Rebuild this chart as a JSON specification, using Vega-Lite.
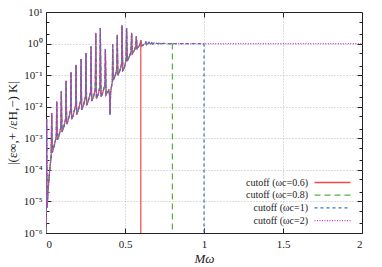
{
  "$schema": "https://vega.github.io/schema/vega-lite/v6.json",
  "width": 316,
  "height": 221,
  "autosize": {"type": "none"},
  "padding": {"left": 46, "top": 12, "right": 20, "bottom": 34},
  "config": {
    "view": {"stroke": "#222222", "strokeWidth": 1},
    "font": "Liberation Serif",
    "axis": {
      "labelFont": "Liberation Serif",
      "titleFont": "Liberation Serif",
      "labelFontSize": 11,
      "titleFontSize": 13,
      "labelColor": "#222222",
      "titleColor": "#222222",
      "titleFontWeight": "normal",
      "domain": false,
      "tickColor": "#222222",
      "gridColor": "#aaaaaa",
      "gridDash": [1, 2],
      "gridWidth": 0.8
    }
  },
  "datasets": {
    "curve": [
      {"mw": 0.0, "lg": -6.0},
      {"mw": 0.002, "lg": -4.2},
      {"mw": 0.004, "lg": -2.39},
      {"mw": 0.007, "lg": -5.2},
      {"mw": 0.012, "lg": -4.75},
      {"mw": 0.02, "lg": -4.2},
      {"mw": 0.028, "lg": -3.8},
      {"mw": 0.033, "lg": -3.55},
      {"mw": 0.036, "lg": -2.2},
      {"mw": 0.04, "lg": -3.45},
      {"mw": 0.048, "lg": -3.3},
      {"mw": 0.056, "lg": -3.15},
      {"mw": 0.065, "lg": -2.95},
      {"mw": 0.068, "lg": -1.83},
      {"mw": 0.072, "lg": -3.05},
      {"mw": 0.08, "lg": -2.95},
      {"mw": 0.088, "lg": -2.8},
      {"mw": 0.094, "lg": -2.62},
      {"mw": 0.097, "lg": -1.51},
      {"mw": 0.101, "lg": -2.8},
      {"mw": 0.109, "lg": -2.7},
      {"mw": 0.117, "lg": -2.55},
      {"mw": 0.124, "lg": -2.38},
      {"mw": 0.127, "lg": -1.17},
      {"mw": 0.131, "lg": -2.55},
      {"mw": 0.139, "lg": -2.45},
      {"mw": 0.147, "lg": -2.3},
      {"mw": 0.155, "lg": -2.12},
      {"mw": 0.158, "lg": -0.91},
      {"mw": 0.162, "lg": -2.4},
      {"mw": 0.17, "lg": -2.3},
      {"mw": 0.178, "lg": -2.15},
      {"mw": 0.187, "lg": -1.97},
      {"mw": 0.19, "lg": -0.67},
      {"mw": 0.194, "lg": -2.25},
      {"mw": 0.202, "lg": -2.15},
      {"mw": 0.21, "lg": -2.0},
      {"mw": 0.219, "lg": -1.82},
      {"mw": 0.222, "lg": -0.49},
      {"mw": 0.226, "lg": -2.1},
      {"mw": 0.234, "lg": -2.0},
      {"mw": 0.242, "lg": -1.86},
      {"mw": 0.25, "lg": -1.68},
      {"mw": 0.253, "lg": -0.3},
      {"mw": 0.257, "lg": -1.95},
      {"mw": 0.265, "lg": -1.86},
      {"mw": 0.273, "lg": -1.72},
      {"mw": 0.282, "lg": -1.55},
      {"mw": 0.285, "lg": -0.09},
      {"mw": 0.289, "lg": -1.82},
      {"mw": 0.297, "lg": -1.73},
      {"mw": 0.305, "lg": -1.6},
      {"mw": 0.312, "lg": -1.42},
      {"mw": 0.315, "lg": 0.34},
      {"mw": 0.319, "lg": -1.74},
      {"mw": 0.327, "lg": -1.65},
      {"mw": 0.335, "lg": -1.52},
      {"mw": 0.341, "lg": -1.35},
      {"mw": 0.344, "lg": 0.49},
      {"mw": 0.348, "lg": -1.68},
      {"mw": 0.356, "lg": -1.6},
      {"mw": 0.364, "lg": -1.47},
      {"mw": 0.373, "lg": -1.3},
      {"mw": 0.376, "lg": -0.17},
      {"mw": 0.38, "lg": -1.62},
      {"mw": 0.388, "lg": -1.55},
      {"mw": 0.397, "lg": -1.48},
      {"mw": 0.402, "lg": -1.6},
      {"mw": 0.405, "lg": -2.25},
      {"mw": 0.409, "lg": -1.55},
      {"mw": 0.415, "lg": -1.35},
      {"mw": 0.42, "lg": -1.2},
      {"mw": 0.422, "lg": -0.03},
      {"mw": 0.426, "lg": -1.15},
      {"mw": 0.434, "lg": -1.07},
      {"mw": 0.442, "lg": -0.95},
      {"mw": 0.448, "lg": -0.8},
      {"mw": 0.451, "lg": 0.28},
      {"mw": 0.455, "lg": -1.0},
      {"mw": 0.463, "lg": -0.92},
      {"mw": 0.471, "lg": -0.8},
      {"mw": 0.478, "lg": -0.65},
      {"mw": 0.481, "lg": 0.58},
      {"mw": 0.486, "lg": -0.85},
      {"mw": 0.493, "lg": -0.8},
      {"mw": 0.5, "lg": -0.68},
      {"mw": 0.507, "lg": -0.5},
      {"mw": 0.51, "lg": 0.49},
      {"mw": 0.515, "lg": -0.55},
      {"mw": 0.522, "lg": -0.48},
      {"mw": 0.53, "lg": -0.38},
      {"mw": 0.538, "lg": -0.25},
      {"mw": 0.542, "lg": 0.34},
      {"mw": 0.546, "lg": -0.32},
      {"mw": 0.553, "lg": -0.27},
      {"mw": 0.561, "lg": -0.19},
      {"mw": 0.568, "lg": -0.08},
      {"mw": 0.572, "lg": 0.23},
      {"mw": 0.576, "lg": -0.16},
      {"mw": 0.583, "lg": -0.12},
      {"mw": 0.591, "lg": -0.06},
      {"mw": 0.597, "lg": 0.0},
      {"mw": 0.6, "lg": 0.1},
      {"mw": 0.605, "lg": -0.08},
      {"mw": 0.613, "lg": -0.05},
      {"mw": 0.621, "lg": -0.02},
      {"mw": 0.628, "lg": 0.01},
      {"mw": 0.631, "lg": 0.07},
      {"mw": 0.636, "lg": -0.04},
      {"mw": 0.645, "lg": 0.0},
      {"mw": 0.652, "lg": 0.045},
      {"mw": 0.66, "lg": -0.025},
      {"mw": 0.668, "lg": 0.03},
      {"mw": 0.676, "lg": -0.015},
      {"mw": 0.684, "lg": 0.02},
      {"mw": 0.692, "lg": -0.008},
      {"mw": 0.7, "lg": 0.013},
      {"mw": 0.708, "lg": -0.004},
      {"mw": 0.716, "lg": 0.008},
      {"mw": 0.73, "lg": 0.0},
      {"mw": 0.75, "lg": 0.004},
      {"mw": 0.77, "lg": 0.0},
      {"mw": 0.8, "lg": 0.0},
      {"mw": 1.0, "lg": 0.0},
      {"mw": 1.5, "lg": 0.0},
      {"mw": 2.0, "lg": 0.0}
    ],
    "cutoffs": [
      {"series": "cutoff (ωc=0.6)", "c": 0.6, "top": 0.1},
      {"series": "cutoff (ωc=0.8)", "c": 0.8, "top": 0.0},
      {"series": "cutoff (ωc=1)", "c": 1.0, "top": 0.0}
    ]
  },
  "resolve": {"axis": {"x": "independent", "y": "independent"}},
  "layer": [
    {
      "data": {"name": "curve"},
      "transform": [{"filter": "datum.mw <= 0.6"}],
      "mark": {"type": "line", "strokeWidth": 1.2, "clip": true},
      "encoding": {
        "x": {
          "field": "mw", "type": "quantitative",
          "scale": {"domain": [0, 2], "nice": false, "zero": false},
          "axis": {
            "values": [0, 0.5, 1, 1.5, 2], "format": "~g",
            "title": "Mω", "titleFontStyle": "italic", "titleFontSize": 13,
            "tickSize": -5, "labelPadding": 10, "titlePadding": 3,
            "grid": true,
            "gridOpacity": {"condition": {"test": "datum.value > 0 && datum.value < 2", "value": 1}, "value": 0}
          }
        },
        "y": {
          "field": "lg", "type": "quantitative",
          "scale": {"domain": [-6, 1], "nice": false, "zero": false},
          "axis": {
            "values": [-6, -5.699, -5.301, -5, -4.699, -4.301, -4, -3.699, -3.301, -3, -2.699, -2.301, -2, -1.699, -1.301, -1, -0.699, -0.301, 0, 0.301, 0.699, 1],
            "labelExpr": "abs(datum.value - round(datum.value)) < 0.01 ? '10' + ['⁻⁶','⁻⁵','⁻⁴','⁻³','⁻²','⁻¹','⁰','¹'][round(datum.value) + 6] : ''",
            "title": "|(ε∞,+ /εH,−) K|",
            "tickSize": {"condition": {"test": "abs(datum.value - round(datum.value)) < 0.01", "value": -5}, "value": -3},
            "labelPadding": 9,
            "titlePadding": 4,
            "grid": true,
            "gridOpacity": {"condition": {"test": "abs(datum.value - round(datum.value)) < 0.01 && datum.value > -6 && datum.value < 1", "value": 1}, "value": 0}
          }
        },
        "color": {
          "datum": "cutoff (ωc=0.6)",
          "type": "nominal",
          "title": null,
          "scale": {
            "domain": ["cutoff (ωc=0.6)", "cutoff (ωc=0.8)", "cutoff (ωc=1)", "cutoff (ωc=2)"],
            "range": ["#f04848", "#55b03c", "#3c70c4", "#c23cc2"]
          },
          "legend": {
            "title": null, "orient": "none", "legendX": 281, "legendY": 165,
            "symbolType": "M-4,0H4", "symbolSize": 81, "symbolStrokeWidth": 1.3,
            "labelAlign": "right", "labelOffset": -30, "labelFont": "Liberation Serif",
            "labelFontSize": 10, "labelColor": "#222222", "labelLimit": 0, "rowPadding": 1.7, "padding": 0
          }
        },
        "strokeDash": {
          "datum": "cutoff (ωc=0.6)",
          "type": "nominal",
          "title": null,
          "scale": {
            "domain": ["cutoff (ωc=0.6)", "cutoff (ωc=0.8)", "cutoff (ωc=1)", "cutoff (ωc=2)"],
            "range": [[1, 0], [6, 4], [3, 3], [1, 1.5]]
          },
          "legend": {
            "title": null, "orient": "none", "legendX": 281, "legendY": 165,
            "symbolType": "M-4,0H4", "symbolSize": 81, "symbolStrokeWidth": 1.3,
            "labelAlign": "right", "labelOffset": -30, "labelFont": "Liberation Serif",
            "labelFontSize": 10, "labelColor": "#222222", "labelLimit": 0, "rowPadding": 1.7, "padding": 0
          }
        }
      }
    },
    {
      "data": {"name": "curve"},
      "transform": [{"filter": "datum.mw <= 0.8"}],
      "mark": {"type": "line", "strokeWidth": 1.2, "clip": true},
      "encoding": {
        "x": {"field": "mw", "type": "quantitative", "axis": null},
        "y": {"field": "lg", "type": "quantitative", "axis": null},
        "color": {"datum": "cutoff (ωc=0.8)", "type": "nominal", "title": null},
        "strokeDash": {"datum": "cutoff (ωc=0.8)", "type": "nominal", "title": null}
      }
    },
    {
      "data": {"name": "curve"},
      "transform": [{"filter": "datum.mw <= 1.0"}],
      "mark": {"type": "line", "strokeWidth": 1.2, "clip": true},
      "encoding": {
        "x": {"field": "mw", "type": "quantitative", "axis": null},
        "y": {"field": "lg", "type": "quantitative", "axis": null},
        "color": {"datum": "cutoff (ωc=1)", "type": "nominal", "title": null},
        "strokeDash": {"datum": "cutoff (ωc=1)", "type": "nominal", "title": null}
      }
    },
    {
      "data": {"name": "curve"},
      "mark": {"type": "line", "strokeWidth": 1.2, "clip": true},
      "encoding": {
        "x": {"field": "mw", "type": "quantitative", "axis": null},
        "y": {"field": "lg", "type": "quantitative", "axis": null},
        "color": {"datum": "cutoff (ωc=2)", "type": "nominal", "title": null},
        "strokeDash": {"datum": "cutoff (ωc=2)", "type": "nominal", "title": null}
      }
    },
    {
      "data": {"name": "cutoffs"},
      "mark": {"type": "rule", "strokeWidth": 1.2},
      "encoding": {
        "x": {
          "field": "c", "type": "quantitative",
          "axis": {"orient": "top", "values": [0.5, 1, 1.5], "labels": false, "title": null, "grid": false, "tickSize": -5}
        },
        "y": {
          "field": "top", "type": "quantitative",
          "axis": {
            "orient": "right", "labels": false, "title": null, "grid": false,
            "values": [-5.699, -5.301, -5, -4.699, -4.301, -4, -3.699, -3.301, -3, -2.699, -2.301, -2, -1.699, -1.301, -1, -0.699, -0.301, 0, 0.301, 0.699],
            "tickSize": {"condition": {"test": "abs(datum.value - round(datum.value)) < 0.01", "value": -5}, "value": -3}
          }
        },
        "y2": {"datum": -6},
        "color": {"field": "series", "type": "nominal", "title": null},
        "strokeDash": {"field": "series", "type": "nominal", "title": null}
      }
    }
  ]
}
